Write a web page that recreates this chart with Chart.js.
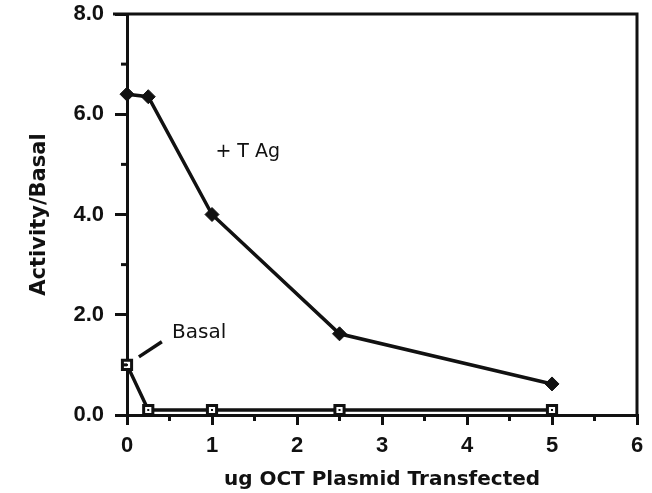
<!DOCTYPE html>
<html><head><meta charset="utf-8">
<script src="https://cdn.jsdelivr.net/npm/chart.js@4/dist/chart.umd.min.js"></script>
<style>html,body{margin:0;padding:0;background:#fff;}#wrap{width:652px;height:493px;}</style>
</head><body><div id="wrap"><canvas id="c" width="652" height="493"></canvas></div>
<script>
const doseX = [0, 0.25, 1, 2.5, 5];
const tagValues = [6.4, 6.35, 4.0, 1.62, 0.62];
const basalValues = [1.0, 0.1, 0.1, 0.1, 0.1];
const xTicks = [0, 1, 2, 3, 4, 5, 6];
const yTicks = [0, 2, 4, 6, 8];
const xMinor = [0.5, 1.5, 2.5, 3.5, 4.5, 5.5];
const yMinor = [1, 3, 5, 7];
const seriesLabels = ['+ T Ag', 'Basal'];
const xTitle = 'ug OCT Plasmid Transfected';
const yTitle = 'Activity/Basal';

const ink = '#111';
const tickFont = {family: 'Liberation Sans, Arial, sans-serif', size: 22, weight: 'bold'};

const annot = {
  id: 'annot',
  afterDraw(chart) {
    const ctx = chart.ctx, xs = chart.scales.x, ys = chart.scales.y;
    ctx.save();
    ctx.strokeStyle = ink; ctx.lineWidth = 3; ctx.lineCap = 'butt';
    xMinor.forEach(v => { const p = xs.getPixelForValue(v); ctx.beginPath(); ctx.moveTo(p, ys.bottom); ctx.lineTo(p, ys.bottom + 6); ctx.stroke(); });
    yMinor.forEach(v => { const p = ys.getPixelForValue(v); ctx.beginPath(); ctx.moveTo(xs.left, p); ctx.lineTo(xs.left - 6, p); ctx.stroke(); });
    ctx.fillStyle = ink;
    ctx.textBaseline = 'middle';
    ctx.font = '19px DejaVu Sans, sans-serif';
    ctx.fillText(seriesLabels[0], xs.getPixelForValue(1.04), ys.getPixelForValue(5.25));
    ctx.font = '20px DejaVu Sans, sans-serif';
    ctx.fillText(seriesLabels[1], xs.getPixelForValue(0.53), ys.getPixelForValue(1.64));
    ctx.lineWidth = 3.5;
    ctx.beginPath();
    ctx.moveTo(xs.getPixelForValue(0.14), ys.getPixelForValue(1.16));
    ctx.lineTo(xs.getPixelForValue(0.41), ys.getPixelForValue(1.46));
    ctx.stroke();
    const meta = chart.getDatasetMeta(1);
    meta.data.forEach(pt => { ctx.fillStyle = ink; ctx.fillRect(pt.x - 1, pt.y - 1, 2, 2); });
    ctx.restore();
  }
};

new Chart(document.getElementById('c'), {
  type: 'scatter',
  data: {
    datasets: [
      {label: seriesLabels[0], data: doseX.map((x, i) => ({x, y: tagValues[i]})), showLine: true, clip: false,
       borderColor: ink, backgroundColor: ink, borderWidth: 3.5, pointStyle: 'rectRot', pointRadius: 7, pointBorderWidth: 1},
      {label: seriesLabels[1], data: doseX.map((x, i) => ({x, y: basalValues[i]})), showLine: true, clip: false,
       borderColor: ink, backgroundColor: '#fff', borderWidth: 3.5, pointStyle: 'rect', pointRadius: 6.5, pointBorderWidth: 3}
    ]
  },
  options: {
    responsive: false, animation: false,
    layout: {padding: {top: 14, right: 15, left: 0, bottom: 0}},
    plugins: {legend: {display: false}, tooltip: {enabled: false}},
    scales: {
      x: {type: 'linear', min: 0, max: 6,
        afterBuildTicks: s => { s.ticks = xTicks.map(v => ({value: v})); },
        afterFit: s => { s.height = 78; s.paddingLeft = 0; s.paddingRight = 0; },
        ticks: {color: ink, font: tickFont, padding: 8, callback: v => String(v)},
        grid: {drawOnChartArea: false, color: ink, lineWidth: 3, tickLength: 10, tickColor: ink, tickWidth: 3},
        border: {display: true, color: ink, width: 3},
        title: {display: true, text: xTitle, color: ink, font: {family: 'DejaVu Sans, sans-serif', size: 20, weight: 'bold', lineHeight: 1.3}, padding: {top: 6, bottom: 0}}
      },
      y: {type: 'linear', min: 0, max: 8,
        afterBuildTicks: s => { s.ticks = yTicks.map(v => ({value: v})); },
        afterFit: s => { s.width = 127; s.paddingTop = 0; s.paddingBottom = 0; },
        ticks: {color: ink, font: tickFont, padding: 11, callback: v => v.toFixed(1)},
        grid: {drawOnChartArea: false, color: ink, lineWidth: 3, tickLength: 12, tickColor: ink, tickWidth: 3},
        border: {display: true, color: ink, width: 3},
        title: {display: true, text: yTitle, color: ink, font: {family: 'DejaVu Sans, sans-serif', size: 21, weight: 'bold'}, padding: {top: 27, bottom: 0}}
      }
    }
  },
  plugins: [annot, {
    id: 'frame',
    beforeDatasetsDraw(chart) {
      const {ctx, chartArea: a} = chart;
      ctx.save(); ctx.strokeStyle = ink; ctx.lineWidth = 3;
      ctx.beginPath(); ctx.moveTo(a.left - 14, a.top); ctx.lineTo(a.right, a.top); ctx.lineTo(a.right, a.bottom); ctx.stroke();
      ctx.restore();
    }
  }]
});
</script></body></html>
